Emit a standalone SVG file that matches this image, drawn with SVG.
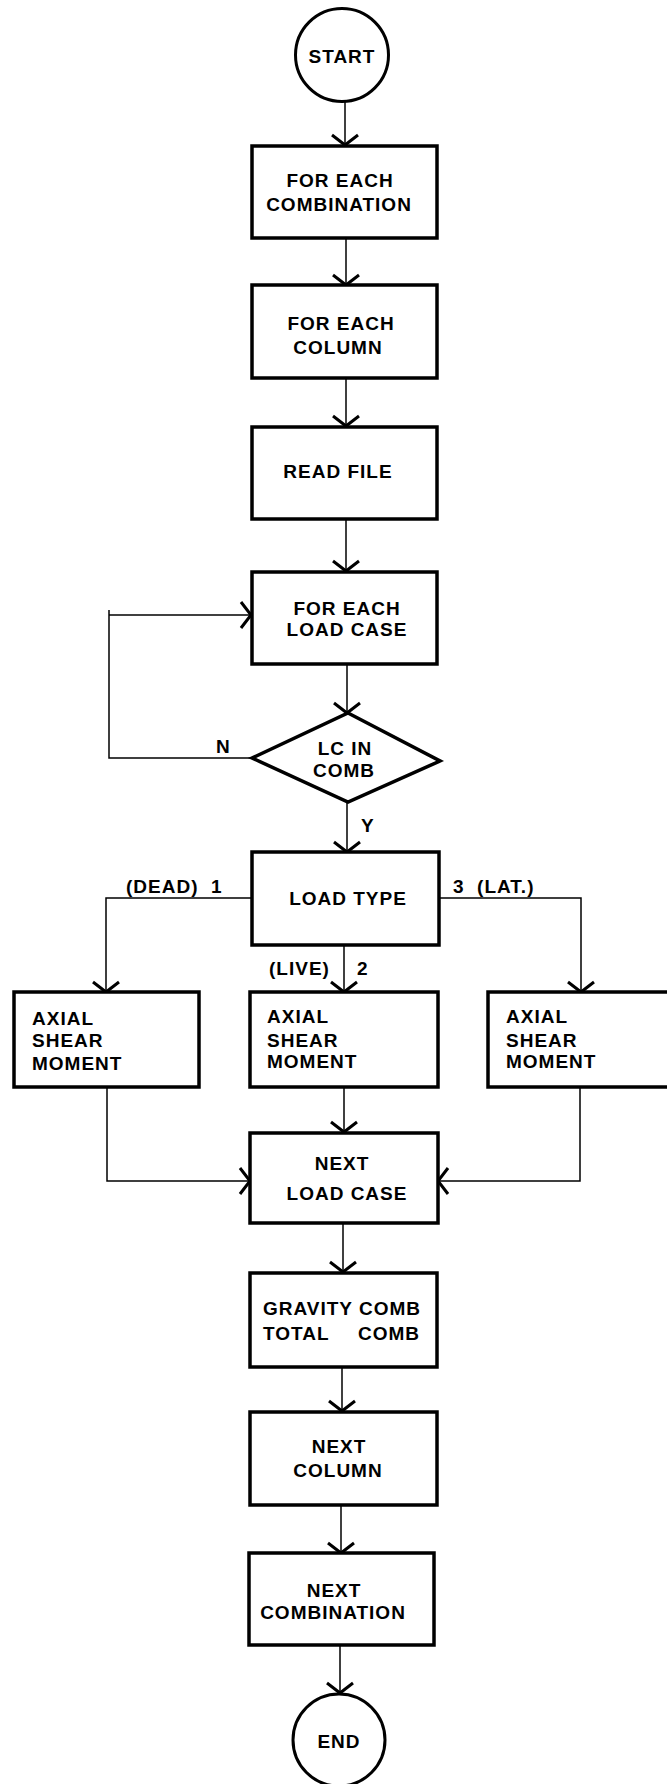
<svg xmlns="http://www.w3.org/2000/svg" width="667" height="1784" viewBox="0 0 667 1784">
<style>
.box{fill:#fff;stroke:#000;stroke-width:3.5}
.term{fill:#fff;stroke:#000;stroke-width:3}
.ln{fill:none;stroke:#000;stroke-width:1.5}
.t{font-family:"Liberation Sans",Arial,sans-serif;font-weight:bold;font-size:19px;fill:#000;letter-spacing:1px}
.c{text-anchor:middle}
</style>
<defs>
<marker id="ah" markerUnits="userSpaceOnUse" markerWidth="30" markerHeight="30" refX="0" refY="0" orient="auto" overflow="visible">
<path d="M -10 -13 L 0 0 L -10 13" fill="none" stroke="#000" stroke-width="3"/>
</marker>
</defs>
<rect width="667" height="1784" fill="#fff"/>
<g id="connectors">
<line class="ln" x1="345" y1="101" x2="345" y2="145" marker-end="url(#ah)"/>
<line class="ln" x1="346" y1="238" x2="346" y2="285" marker-end="url(#ah)"/>
<line class="ln" x1="346" y1="378" x2="346" y2="426" marker-end="url(#ah)"/>
<line class="ln" x1="346" y1="519" x2="346" y2="571" marker-end="url(#ah)"/>
<line class="ln" x1="347" y1="664" x2="347" y2="713" marker-end="url(#ah)"/>
<line class="ln" x1="347" y1="802" x2="347" y2="852" marker-end="url(#ah)"/>
<polyline class="ln" points="252,758 109,758 109,610"/>
<line class="ln" x1="109" y1="615" x2="251" y2="615" marker-end="url(#ah)"/>
<line class="ln" x1="344" y1="945" x2="344" y2="992" marker-end="url(#ah)"/>
<polyline class="ln" points="252,898 106,898 106,992" marker-end="url(#ah)"/>
<polyline class="ln" points="439,898 581,898 581,992" marker-end="url(#ah)"/>
<line class="ln" x1="344" y1="1087" x2="344" y2="1132" marker-end="url(#ah)"/>
<polyline class="ln" points="107,1087 107,1181 250,1181" marker-end="url(#ah)"/>
<polyline class="ln" points="580,1087 580,1181 438,1181" marker-end="url(#ah)"/>
<line class="ln" x1="343" y1="1223" x2="343" y2="1272" marker-end="url(#ah)"/>
<line class="ln" x1="342" y1="1367" x2="342" y2="1411" marker-end="url(#ah)"/>
<line class="ln" x1="341" y1="1505" x2="341" y2="1553" marker-end="url(#ah)"/>
<line class="ln" x1="340" y1="1645" x2="340" y2="1693" marker-end="url(#ah)"/>
<text class="t" x="216" y="753">N</text>
<text class="t" x="361" y="832">Y</text>
<text class="t" x="126" y="893" xml:space="preserve">(DEAD)  1</text>
<text class="t" x="453" y="893" xml:space="preserve">3  (LAT.)</text>
<text class="t" x="269" y="975">(LIVE)</text>
<text class="t" x="357" y="975">2</text>
</g>
<g id="start">
<circle class="term" cx="342" cy="55" r="46.5"/>
<text class="t c" x="342" y="63">START</text>
</g>
<g id="for-each-combination">
<rect class="box" x="252" y="146" width="185" height="92"/>
<text class="t c" x="340" y="187">FOR EACH</text>
<text class="t c" x="339" y="211">COMBINATION</text>
</g>
<g id="for-each-column">
<rect class="box" x="252" y="285" width="185" height="93"/>
<text class="t c" x="341" y="330">FOR EACH</text>
<text class="t c" x="338" y="354">COLUMN</text>
</g>
<g id="read-file">
<rect class="box" x="252" y="427" width="185" height="92"/>
<text class="t c" x="338" y="478">READ FILE</text>
</g>
<g id="for-each-load-case">
<rect class="box" x="252" y="572" width="185" height="92"/>
<text class="t c" x="347" y="615">FOR EACH</text>
<text class="t c" x="347" y="636">LOAD CASE</text>
</g>
<g id="lc-in-comb">
<polygon class="box" points="348,713 440,761 348,802 252,758"/>
<text class="t c" x="345" y="755">LC IN</text>
<text class="t c" x="344" y="777">COMB</text>
</g>
<g id="load-type">
<rect class="box" x="252" y="852" width="187" height="93"/>
<text class="t c" x="348" y="905">LOAD TYPE</text>
</g>
<g id="dead-forces">
<rect class="box" x="14" y="992" width="185" height="95"/>
<text class="t" x="32" y="1025">AXIAL</text>
<text class="t" x="32" y="1047">SHEAR</text>
<text class="t" x="32" y="1070">MOMENT</text>
</g>
<g id="live-forces">
<rect class="box" x="250" y="992" width="188" height="95"/>
<text class="t" x="267" y="1023">AXIAL</text>
<text class="t" x="267" y="1047">SHEAR</text>
<text class="t" x="267" y="1068">MOMENT</text>
</g>
<g id="lat-forces">
<rect class="box" x="488" y="992" width="200" height="95"/>
<text class="t" x="506" y="1023">AXIAL</text>
<text class="t" x="506" y="1047">SHEAR</text>
<text class="t" x="506" y="1068">MOMENT</text>
</g>
<g id="next-load-case">
<rect class="box" x="250" y="1133" width="188" height="90"/>
<text class="t c" x="342" y="1170">NEXT</text>
<text class="t c" x="347" y="1200">LOAD CASE</text>
</g>
<g id="gravity-total-comb">
<rect class="box" x="250" y="1273" width="187" height="94"/>
<text class="t" x="263" y="1315">GRAVITY COMB</text>
<text class="t" x="263" y="1340">TOTAL</text>
<text class="t" x="358" y="1340">COMB</text>
</g>
<g id="next-column">
<rect class="box" x="250" y="1412" width="187" height="93"/>
<text class="t c" x="339" y="1453">NEXT</text>
<text class="t c" x="338" y="1477">COLUMN</text>
</g>
<g id="next-combination">
<rect class="box" x="249" y="1553" width="185" height="92"/>
<text class="t c" x="334" y="1597">NEXT</text>
<text class="t c" x="333" y="1619">COMBINATION</text>
</g>
<g id="end">
<circle class="term" cx="339" cy="1740" r="46"/>
<text class="t c" x="339" y="1748">END</text>
</g>
</svg>
